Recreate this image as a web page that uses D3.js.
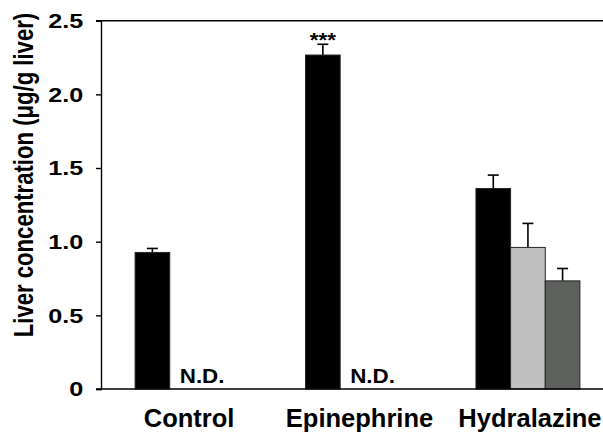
<!DOCTYPE html>
<html>
<head>
<meta charset="utf-8">
<script src="https://cdn.jsdelivr.net/npm/d3@7"></script>
<style>
  body { margin: 0; background: #fff; }
  svg { display: block; font-family: "Liberation Sans", Arial, sans-serif; font-weight: bold; }
</style>
</head>
<body>
<svg id="chart" width="603" height="433"></svg>
<script>
// groups on the x axis
var groups = ["Control", "Epinephrine", "Hydralazine"]

// three sub-series per group (null = not detected)
var seriesBlack = [0.927, 2.267, 1.361]
var seriesLight = [null, null, 0.961]
var seriesDark = [null, null, 0.734]

// upward error (SE)
var errBlack = [0.027, 0.073, 0.091]
var errLight = [null, null, 0.163]
var errDark = [null, null, 0.084]

var marks = ["", "***", ""]
var ndText = "N.D."

var yTicks = [0, 0.5, 1.0, 1.5, 2.0, 2.5]
var yTickLabels = ["0", "0.5", "1.0", "1.5", "2.0", "2.5"]
var yTitle = "Liver concentration (\u03bcg/g liver)"

var colors = ["#000000", "#c0c0c0", "#5e605e"]

var width = 603
var height = 433
var mLeft = 101
var mTop = 20.7
var mBottom = 389

var svg = d3.select("#chart")

var x = d3.scaleBand()
    .domain(groups)
    .range([mLeft, 614])
    .paddingInner(0.39)
    .paddingOuter(0.2)

var sub = d3.scaleBand()
    .domain([0, 1, 2])
    .range([0, x.bandwidth()])

var y = d3.scaleLinear()
    .domain([0, 2.5])
    .range([mBottom, mTop])

var allSeries = [seriesBlack, seriesLight, seriesDark]
var allErr = [errBlack, errLight, errDark]

var bars = []
groups.forEach(function(g, i) {
    allSeries.forEach(function(s, j) {
        if (s[i] != null) {
            bars.push({group: g, idx: j, value: s[i], err: allErr[j][i]})
        }
    })
})

function barMid(d) {
    return x(d.group) + sub(d.idx) + sub.bandwidth() / 2
}

// error bars first so the bar covers the lower half of the stem
var eb = svg.append("g")
eb.selectAll("line.stem")
    .data(bars).enter().append("line")
    .attr("x1", barMid)
    .attr("x2", barMid)
    .attr("y1", function(d) { return y(d.value) })
    .attr("y2", function(d) { return y(d.value + d.err) })
    .style("stroke", "#000").style("stroke-width", 1.6)
eb.selectAll("line.cap")
    .data(bars).enter().append("line")
    .attr("x1", function(d) { return barMid(d) - 5.5 })
    .attr("x2", function(d) { return barMid(d) + 5.5 })
    .attr("y1", function(d) { return y(d.value + d.err) })
    .attr("y2", function(d) { return y(d.value + d.err) })
    .style("stroke", "#000").style("stroke-width", 1.6)

svg.append("g").selectAll("rect")
    .data(bars).enter().append("rect")
    .attr("x", function(d) { return x(d.group) + sub(d.idx) })
    .attr("y", function(d) { return y(d.value) })
    .attr("width", sub.bandwidth())
    .attr("height", function(d) { return y(0) - y(d.value) })
    .attr("fill", function(d) { return colors[d.idx] })
    .style("stroke", "#262626")
    .style("stroke-width", 1)

// significance marks
svg.append("g").selectAll("text")
    .data(groups).enter().append("text")
    .text(function(d, i) { return marks[i] })
    .attr("transform", function(d, i) {
        return "translate(" + (x(d) + sub(0) + sub.bandwidth() / 2) + "," +
            (y(seriesBlack[i] + errBlack[i]) + 3) + ") scale(1.12,1)"
    })
    .attr("text-anchor", "middle")
    .style("font-size", "20px")

// N.D. where the second series is missing
svg.append("g").selectAll("text")
    .data(groups.filter(function(d, i) { return seriesLight[i] == null })).enter().append("text")
    .text(ndText)
    .attr("transform", function(d) {
        return "translate(" + (x(d) + sub(1) + 10) + "," + (y(0) - 6) + ") scale(1.12,1)"
    })
    .style("font-size", "20px")

// y axis
var yAxis = d3.axisLeft(y)
    .tickValues(yTicks)
    .tickFormat(function(d, i) { return yTickLabels[i] })
    .tickSize(5)
    .tickPadding(12)
var ga = svg.append("g")
    .attr("transform", "translate(" + mLeft + ",0)")
    .call(yAxis)
ga.select(".domain").style("stroke-width", 1.4)
ga.selectAll(".tick line").style("stroke-width", 1.4)
ga.selectAll(".tick text")
    .attr("x", 0)
    .attr("transform", "translate(-17.7,0) scale(1.2,1)")
    .style("font-family", "Liberation Sans, Arial, sans-serif")
    .style("font-weight", "bold")
    .style("font-size", "21px")
    .attr("fill", "#000")

// horizontal frame lines at 0 and top
svg.append("g").selectAll("line")
    .data([0, 2.5]).enter().append("line")
    .attr("x1", mLeft - 5).attr("x2", width)
    .attr("y1", function(d) { return y(d) }).attr("y2", function(d) { return y(d) })
    .style("stroke", "#000").style("stroke-width", 1.4)

// category labels
svg.append("g").selectAll("text")
    .data(groups).enter().append("text")
    .text(function(d) { return d })
    .attr("x", function(d) { return x(d) + x.bandwidth() / 2 + 2 })
    .attr("y", 427)
    .attr("text-anchor", "middle")
    .style("font-size", "25.5px")

svg.append("text")
    .text(yTitle)
    .attr("transform", "translate(32.5,175) rotate(-90) scale(0.79,1)")
    .attr("text-anchor", "middle")
    .style("font-size", "28px")
</script>
</body>
</html>
